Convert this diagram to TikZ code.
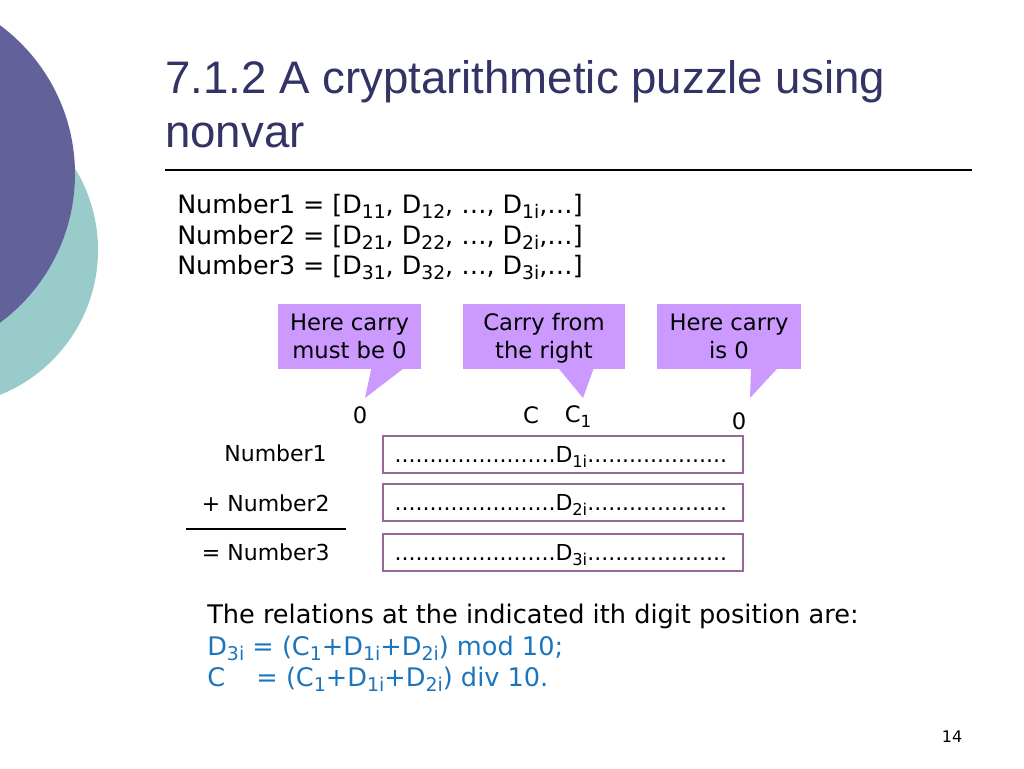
\documentclass[tikz,border=0pt]{standalone}
\usepackage{fontspec}
\setmainfont{DejaVu Sans}
\newfontfamily\titlefont{Liberation Sans}
\usetikzlibrary{calc}

\definecolor{slidepurple}{RGB}{99,97,154}
\definecolor{slideteal}{RGB}{154,203,203}
\definecolor{titleblue}{RGB}{51,51,102}
\definecolor{calloutpink}{RGB}{204,153,255}
\definecolor{boxmauve}{RGB}{153,102,153}
\definecolor{relblue}{RGB}{28,117,188}

\tikzset{
  titletext/.style={anchor=base west, inner sep=0pt, text=titleblue,
    font=\titlefont\fontsize{34.2}{40}\selectfont},
  listtext/.style={anchor=base west, inner sep=0pt, font=\fontsize{19}{22}\selectfont},
  reltext/.style={anchor=base west, inner sep=0pt, font=\fontsize{19.2}{23}\selectfont},
  labeltext/.style={anchor=base east, inner sep=0pt, font=\fontsize{16.5}{20}\selectfont},
  callout/.style={fill=calloutpink, minimum height=48.75pt, align=center,
    inner sep=0pt, text depth=0pt, font=\fontsize{17}{21}\selectfont},
  digitbox/.style={draw=boxmauve, line width=1pt, minimum width=270pt,
    minimum height=27.75pt, inner sep=0pt},
  rowtext/.style={anchor=base west, inner sep=0pt, font=\fontsize{16.5}{20}\selectfont},
  carrytext/.style={inner sep=0pt, font=\fontsize{17}{20}\selectfont}
}

\newcommand{\sub}[1]{\raisebox{-0.22em}{\fontsize{0.74em}{1em}\selectfont #1}}
\newcommand{\dotrun}[1]{\foreach \k in {1,...,#1}{.}}

\begin{document}
\begin{tikzpicture}[x=0.75pt, y=-0.75pt]
  \useasboundingbox (0,0) rectangle (1024,768);

  % background circles
  \fill[slideteal] (-58,250) circle (156);
  \fill[slidepurple] (-110,174) circle (185);

  % title
  \node[titletext] (title1) at (165,93) {7.1.2 A cryptarithmetic puzzle using};
  \node[titletext] (title2) at (165,147) {nonvar};
  \draw[line width=1.1pt] (165,170) -- (972,170);

  % number lists
  \node[listtext] (list1) at (177,213) {Number1 = [D\sub{11}, D\sub{12}, …, D\sub{1i},…]};
  \node[listtext] (list2) at (177,244) {Number2 = [D\sub{21}, D\sub{22}, …, D\sub{2i},…]};
  \node[listtext] (list3) at (177,274) {Number3 = [D\sub{31}, D\sub{32}, …, D\sub{3i},…]};

  % callouts
  \node[callout, minimum width=107.25pt] (mustzero) at (349.5,336) {Here carry\\must be 0};
  \node[callout, minimum width=121.5pt] (fromright) at (544,336) {Carry from\\the right};
  \node[callout, minimum width=108pt] (iszero) at (729,336) {Here carry\\is 0};
  \coordinate (tipA) at (365,398);
  \coordinate (tipB) at (583,398);
  \coordinate (tipC) at (750,398);
  \fill[calloutpink] ($(mustzero.south)+(22,-1)$) -- (tipA) -- ($(mustzero.south)+(55,-1)$) -- cycle;
  \fill[calloutpink] ($(fromright.south)+(14,-1)$) -- (tipB) -- ($(fromright.south)+(50,-1)$) -- cycle;
  \fill[calloutpink] ($(iszero.south)+(22,-1)$) -- (tipC) -- ($(iszero.south)+(49,-1)$) -- cycle;

  % carries
  \node[carrytext] (carry0) at (360,415) {0};
  \node[carrytext] (carryC) at (531,415) {C};
  \node[carrytext] (carryC1) at (578,417) {C\sub{1}};
  \node[carrytext] (carryR) at (739,421) {0};

  % the sum
  \node[labeltext] (lab1) at (327,461) {Number1};
  \node[labeltext] (lab2) at (330,511) {+ Number2};
  \node[labeltext] (lab3) at (330,560) {= Number3};
  \draw[line width=2.2pt] (186,529) -- (346,529);

  \node[digitbox] (row1) at (563,454.5) {};
  \node[digitbox] (row2) at (563,502.5) {};
  \node[digitbox] (row3) at (563,552.5) {};
  \foreach \r/\d in {row1/1, row2/2, row3/3}
    \node[rowtext] at ($(\r.west)+(12,8)$) {\dotrun{23}D\sub{\d i}\dotrun{20}};

  % relations
  \node[reltext] (rel0) at (207,623) {The relations at the indicated ith digit position are:};
  \node[reltext, text=relblue] (rel1) at (207,655) {D\sub{3i} = (C\sub{1}+D\sub{1i}+D\sub{2i}) mod 10;};
  \node[reltext, text=relblue] (rel2) at (207,686) {\rlap{C}\phantom{D\sub{3i}}\hspace{3pt} = (C\sub{1}+D\sub{1i}+D\sub{2i}) div 10.};

  % page number
  \node[inner sep=0pt, font=\fontsize{12}{14}\selectfont] (page) at (952,737) {14};
\end{tikzpicture}
\end{document}
